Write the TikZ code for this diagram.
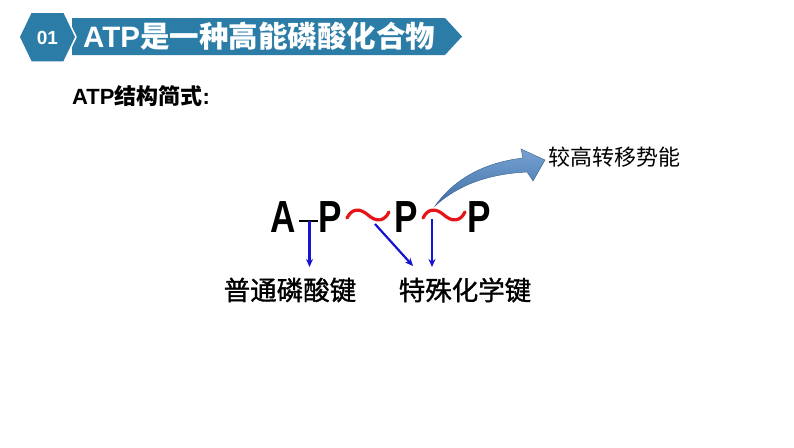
\documentclass[tikz,border=0pt]{standalone}
\usepackage{fontspec}
\setmainfont{Liberation Sans}
\newfontfamily\cjk{Noto Sans CJK SC}
\newfontfamily\cjkm[FakeBold=1.2]{Noto Sans CJK SC}
\usetikzlibrary{arrows.meta}
\definecolor{banner}{RGB}{43,124,166}
\definecolor{bondblue}{RGB}{20,20,210}
\definecolor{wavered}{RGB}{230,20,25}
\definecolor{arrowblue}{RGB}{74,132,196}
\tikzset{
  letter/.style={inner sep=0pt, anchor=base, xscale=0.78, font=\bfseries\fontsize{45}{45}\selectfont},
  wave/.style={draw=wavered, line width=3.2pt, line cap=round},
  bond/.style={draw=bondblue, line width=2.2pt, -{Stealth[length=8pt,width=7pt]}},
  lbl/.style={inner sep=0pt, font=\cjkm\fontsize{26.5}{26.5}\selectfont},
}
\begin{document}
\begin{tikzpicture}[x=1pt,y=-1pt]
\useasboundingbox (0,0) rectangle (794,447);
% header banner
\fill[banner] (72,18) -- (445,18) -- (462,36.5) -- (445,55) -- (72,55) -- cycle;
\filldraw[fill=banner, draw=white, line width=1.5pt] (19,37) -- (31,12) -- (64,12) -- (76,37) -- (64,62) -- (31,62) -- cycle;
\node[text=white, inner sep=0pt, font=\bfseries\fontsize{19}{19}\selectfont] (num) at (47.5,38) {01};
\node[text=white, inner sep=0pt, anchor=west, font=\bfseries\fontsize{29.5}{29.5}\selectfont] (title) at (83,36) {ATP{\cjk\bfseries 是一种高能磷酸化合物}};
% subtitle
\node[inner sep=0pt, anchor=west, font=\bfseries\fontsize{22}{22}\selectfont] (sub) at (72,96) {ATP{\cjk\bfseries 结构简式}:};
% formula letters
\node[letter] (A) at (283.5,232) {A};
\node[letter] (P1) at (330,232) {P};
\node[letter] (P2) at (406,232) {P};
\node[letter] (P3) at (479,232) {P};
% single bond
\coordinate (d1) at (299,221);
\coordinate (d2) at (318,221);
\draw[line width=2pt] (d1) -- (d2);
% waves
\draw[wave] (347,218) .. controls (352,208) and (360,208) .. (368,215) .. controls (376,222) and (384,222) .. (389,212);
\draw[wave] (423,218) .. controls (428,208) and (436,208) .. (444,215) .. controls (452,222) and (460,222) .. (465,212);
% labels
\node[lbl] (L1) at (290,290) {普通磷酸键};
\node[lbl] (L2) at (465,290) {特殊化学键};
\node[inner sep=0pt, anchor=west, font=\cjk\fontsize{22}{22}\selectfont] (L3) at (548,157) {较高转移势能};
% bond arrows
\coordinate (b1s) at (309.5,221);
\coordinate (b1e) at (309.5,267);
\draw[bond] (b1s) -- (b1e);
\coordinate (b2s) at (375,224);
\coordinate (b2e) at (413,266);
\draw[bond] (b2s) -- (b2e);
\coordinate (b3s) at (432,219);
\coordinate (b3e) at (432,267);
\draw[bond] (b3s) -- (b3e);
% curved energy arrow
\shade[top color=arrowblue!75!white, bottom color=arrowblue!85!black, draw=arrowblue!70!black, line width=0.4pt]
  (435,206) .. controls (452,182) and (480,163) .. (523,158)
  -- (521,149) -- (545,160) -- (533,181) -- (527,172)
  .. controls (488,174) and (458,185) .. (435,206) -- cycle;
\end{tikzpicture}
\end{document}
